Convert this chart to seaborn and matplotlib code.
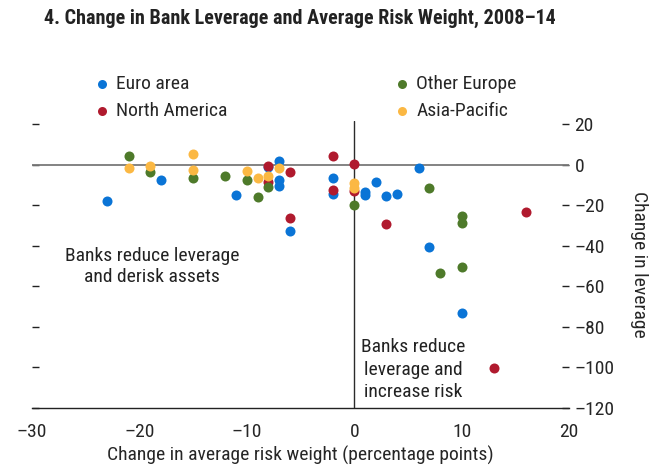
import matplotlib
matplotlib.use("Agg")
import matplotlib.pyplot as plt
import seaborn as sns

# values (x = change in avg risk weight, y = change in leverage)
euro_x = [-23, -18, -11, -8, -7, -7, -7, -6, -2, -2, 1, 1, 2, 3, 4, 6, 7, 10]
euro_y = [-18, -7.5, -14.6, -1, 2, -7.2, -10.3, -32.5, -6.4, -14.4, -13.6, -15, -8.2, -15.4, -14.5, -1.5, -40.4, -73.2]

namerica_x = [-8, -8, -6, -6, -2, -2, 0, 0, 3, 13, 16]
namerica_y = [-0.5, -8.5, -3.4, -26.3, 4.4, -12.3, 0.5, -12.8, -29.4, -100.3, -23.3]

oeurope_x = [-21, -19, -15, -12, -10, -9, -8, 0, 7, 8, 10, 10, 10]
oeurope_y = [4.6, -3.6, -6.4, -5.4, -7.4, -15.6, -10.7, -19.6, -11.5, -53.5, -25.4, -28.7, -50.3]

asia_x = [-21, -19, -15, -15, -10, -9, -8, -7, 0, 0]
asia_y = [-1.6, -0.3, 5.6, -2.6, -3, -6.4, -5.4, -1.3, -9, -11.5]

x_ticks = [-30, -20, -10, 0, 10, 20]
y_ticks = [20, 0, -20, -40, -60, -80, -100, -120]

sns.set_style("white")
font = ["Liberation Sans Narrow", "Roboto Condensed", "DejaVu Sans Condensed", "Liberation Sans", "DejaVu Sans"]
plt.rcParams["font.family"] = font

fs = 14
fig = plt.figure(figsize=(6.58, 4.65), dpi=100)
ax = fig.add_axes([32/658, 57/465, (569-32)/658, (408-121.4)/465])

ax.axhline(0, color="#7a7a7a", lw=1.3, zorder=1)
ax.axvline(0, color="#2b2b2b", lw=1.0, zorder=1)

sns.scatterplot(x=euro_x, y=euro_y, color="#0A74D6", s=52, linewidth=0, label="Euro area", ax=ax, zorder=3)
sns.scatterplot(x=namerica_x, y=namerica_y, color="#B01A2E", s=52, linewidth=0, label="North America", ax=ax, zorder=3)
sns.scatterplot(x=oeurope_x, y=oeurope_y, color="#4E7A2A", s=52, linewidth=0, label="Other Europe", ax=ax, zorder=3)
sns.scatterplot(x=asia_x, y=asia_y, color="#FBB843", s=52, linewidth=0, label="Asia-Pacific", ax=ax, zorder=3)

ax.set_xlim(-30, 20)
ax.set_ylim(-120, 21.5)
ax.set_xticks(x_ticks)
ax.set_yticks(y_ticks)
ax.set_xticklabels([str(v).replace("-", "\u2013") for v in x_ticks])
ax.set_yticklabels([str(v).replace("-", "\u2013") for v in y_ticks])

for s in ["top", "left", "right"]:
    ax.spines[s].set_visible(False)
ax.spines["bottom"].set_color("#222222")
ax.spines["bottom"].set_linewidth(1.0)

ax.tick_params(axis="x", direction="in", length=5, width=1, color="#222222", labelsize=fs, pad=11)
ax.tick_params(axis="y", direction="in", length=5, width=1, color="#222222", labelsize=fs,
               left=True, right=True, labelleft=False, labelright=True, pad=4)

ax.set_xlabel("Change in average risk weight (percentage points)", fontsize=fs, labelpad=3)
ax.yaxis.set_label_position("right")
ax.set_ylabel("Change in leverage", fontsize=fs, rotation=270, labelpad=24)

ax.text(-18.8, -50, "Banks reduce leverage\nand derisk assets", ha="center", va="center",
        fontsize=fs, color="#222222", linespacing=1.2)
ax.text(5.5, -101, "Banks reduce\nleverage and\nincrease risk", ha="center", va="center",
        fontsize=fs, color="#222222", linespacing=1.3)

handles, labels = ax.get_legend_handles_labels()
leg_kw = dict(bbox_transform=fig.transFigure, frameon=False, fontsize=fs, handletextpad=0.25,
              labelspacing=0.45, markerscale=0.9, borderaxespad=0, borderpad=0, handlelength=1.0,
              loc="upper left")
leg1 = ax.legend(handles[:2], labels[:2], bbox_to_anchor=(92/658, 1 - 75/465), **leg_kw)
ax.add_artist(leg1)
ax.legend(handles[2:], labels[2:], bbox_to_anchor=(392/658, 1 - 75/465), **leg_kw)

fig.text(44/658, 1 - 18/465, "4. Change in Bank Leverage and Average Risk Weight, 2008\u201314",
         fontsize=14.5, fontweight="bold", va="center", ha="left", color="#222222")

fig.savefig("out.png", dpi=100)
